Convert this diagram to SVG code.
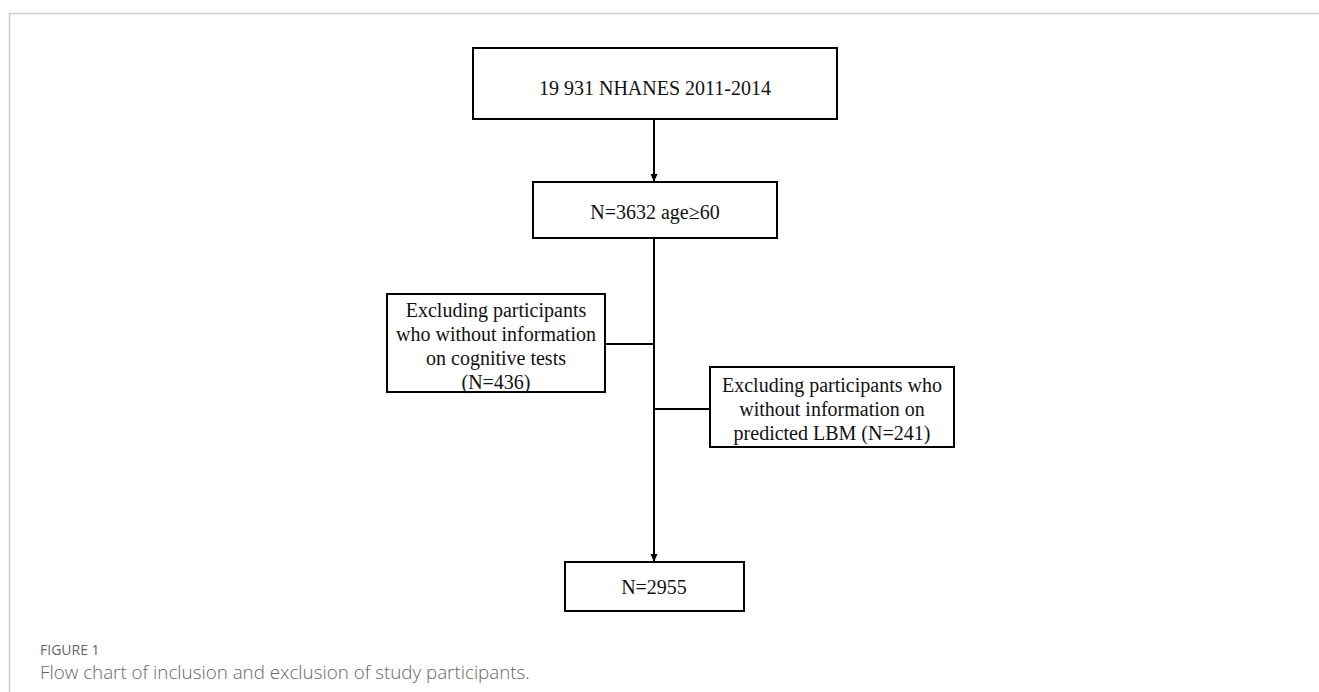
<svg xmlns="http://www.w3.org/2000/svg" width="1319" height="692" viewBox="0 0 1319 692">
<style>
.box{fill:#fff;stroke:#000;stroke-width:2}
.t{font-family:"Liberation Serif","Times New Roman",serif;font-size:20px;fill:#111;text-anchor:middle}
.c{stroke:#000;stroke-width:2;fill:none}
.frame{stroke:#cfcfcf;stroke-width:1.5;fill:none}
.cap{font-family:"Open Sans",sans-serif;fill:#666}
</style>
<defs>
<marker id="ah" markerWidth="8" markerHeight="8" refX="7" refY="4" orient="auto" markerUnits="userSpaceOnUse">
<path d="M0,0.5 L8,4 L0,7.5 z" fill="#000"/>
</marker>
</defs>
<path class="frame" d="M9.5,692 V13.5 H1319"/>
<g id="connectors">
<line class="c" x1="654" y1="119" x2="654" y2="181" marker-end="url(#ah)"/>
<line class="c" x1="654" y1="238" x2="654" y2="561" marker-end="url(#ah)"/>
<line class="c" x1="605" y1="344" x2="654" y2="344"/>
<line class="c" x1="654" y1="409" x2="710" y2="409"/>
</g>
<g id="n1">
<rect class="box" x="473" y="48" width="364" height="71"/>
<text class="t" x="655" y="95">19 931 NHANES 2011-2014</text>
</g>
<g id="n2">
<rect class="box" x="533" y="182" width="244" height="56"/>
<text class="t" x="655" y="219">N=3632 age≥60</text>
</g>
<g id="n3">
<rect class="box" x="387" y="294" width="218" height="98"/>
<text class="t" x="496" y="317">Excluding participants</text>
<text class="t" x="496" y="341">who without information</text>
<text class="t" x="496" y="365">on cognitive tests</text>
<text class="t" x="496" y="389">(N=436)</text>
</g>
<g id="n4">
<rect class="box" x="710" y="367" width="244" height="80"/>
<text class="t" x="832" y="392">Excluding participants who</text>
<text class="t" x="832" y="416">without information on</text>
<text class="t" x="832" y="440">predicted LBM (N=241)</text>
</g>
<g id="n5">
<rect class="box" x="565" y="562" width="179" height="49"/>
<text class="t" x="654" y="594">N=2955</text>
</g>
<text class="cap" x="40" y="655" font-size="14" fill="#777">FIGURE 1</text>
<text class="cap" x="40" y="679" font-size="18.8" font-weight="300">Flow chart of inclusion and exclusion of study participants.</text>
</svg>
